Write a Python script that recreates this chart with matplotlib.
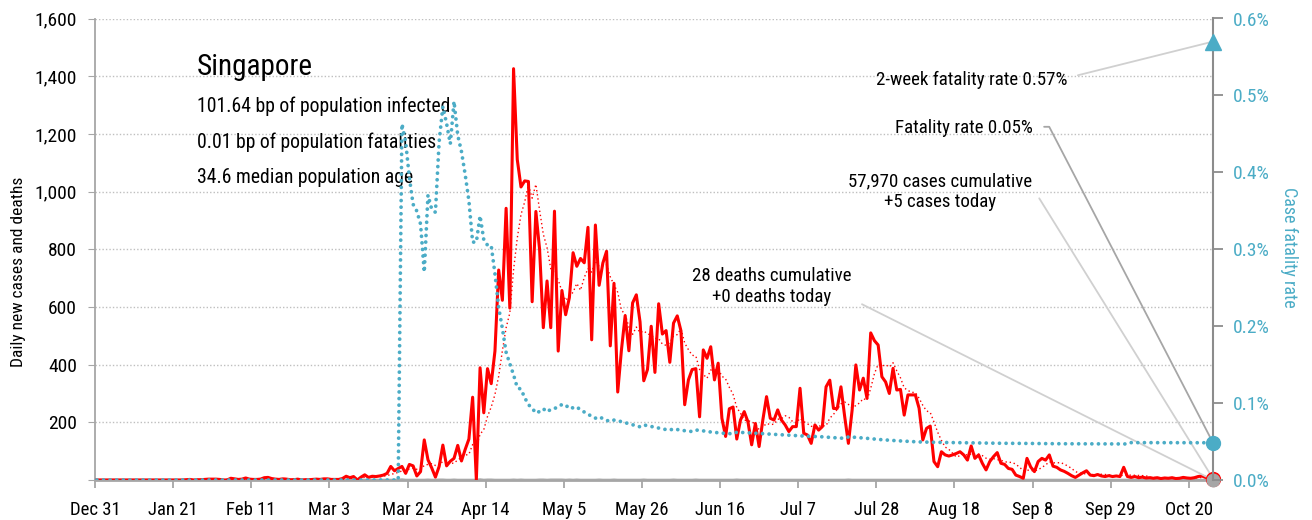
import numpy as np
import pandas as pd
import matplotlib
matplotlib.use('Agg')
import matplotlib.pyplot as plt
from matplotlib import font_manager as fm

# pick a narrow sans if there is one
installed = {f.name for f in fm.fontManager.ttflist}
for fam in ['Liberation Sans Narrow', 'Roboto Condensed', 'DejaVu Sans']:
    if fam in installed:
        break
plt.rcParams['font.family'] = [fam, 'DejaVu Sans']

# daily new cases, Dec 31 2019 .. Oct 26 2020
cases_dec = [0]
cases_jan = [0, 0, 0, 0, 0, 0, 0, 0, 0, 0, 0, 0, 0, 0, 0, 0, 0, 0, 0, 0,
             0, 0, 0, 1, 2, 0, 1, 1, 2, 3, 3]
cases_feb = [3, 2, 0, 0, 6, 4, 2, 3, 7, 3, 2, 2, 3, 8, 9, 5, 3, 2, 4, 3,
             1, 1, 3, 0, 1, 1, 2, 3, 2]
cases_mar = [4, 4, 2, 2, 2, 5, 13, 8, 12, 0, 10, 18, 9, 13, 12, 14, 17, 23, 47, 32,
             40, 47, 23, 54, 49, 14, 29, 139, 70, 42, 10]
cases_apr = [47, 121, 49, 65, 75, 120, 66, 106, 142, 287, 0, 389, 233, 386, 334, 447, 728, 623, 942, 596,
             1426, 1111, 1016, 1037, 1035, 618, 931, 799, 528, 690]
cases_may = [528, 932, 447, 657, 573, 632, 788, 741, 768, 753, 876, 486, 884, 675, 752, 793, 465, 682, 305, 451,
             570, 448, 614, 642, 548, 344, 383, 533, 373, 611, 506]
cases_jun = [518, 408, 544, 569, 517, 261, 347, 383, 386, 219, 451, 422, 462, 347, 405, 214, 151, 247, 253, 142,
             208, 237, 202, 122, 196, 116, 208, 289, 214, 208]
cases_jul = [243, 208, 191, 168, 185, 185, 318, 162, 156, 127, 191, 173, 185, 323, 346, 248, 248, 323, 220, 127,
             242, 399, 312, 353, 283, 510, 483, 468, 358, 340, 300]
cases_aug = [387, 312, 314, 225, 295, 295, 295, 249, 139, 179, 187, 64, 46, 98, 87, 83, 87, 92, 98, 87,
             69, 118, 75, 87, 58, 35, 64, 81, 95, 58, 54]
cases_sep = [40, 37, 17, 12, 6, 75, 45, 29, 64, 75, 69, 87, 48, 44, 35, 30, 23, 15, 9, 17,
             25, 32, 17, 15, 19, 14, 12, 15, 12, 14]
cases_oct = [12, 44, 12, 9, 12, 8, 10, 7, 8, 6, 8, 5, 7, 6, 8, 5, 6, 9, 7, 6,
             8, 12, 14, 9, 7, 5]

# new deaths (date, count)
death_dates = ['2020-03-22', '2020-03-29', '2020-04-01', '2020-04-02', '2020-04-05', '2020-04-12',
               '2020-04-14', '2020-04-15', '2020-04-21', '2020-04-23', '2020-04-28', '2020-04-29',
               '2020-05-01', '2020-05-02', '2020-05-03', '2020-05-04', '2020-05-06', '2020-05-08',
               '2020-05-14', '2020-05-18', '2020-05-26', '2020-06-03', '2020-06-09', '2020-06-20',
               '2020-07-20', '2020-10-04']
death_counts = [2, 1, 1, 1, 1, 2, 1, 1, 1, 1, 1, 1, 1, 1, 1, 1, 1, 1, 1, 1, 1, 1, 1, 1, 1, 1]

two_week_cfr = 0.57
tick_dates = ['2019-12-31', '2020-01-21', '2020-02-11', '2020-03-03', '2020-03-24', '2020-04-14',
              '2020-05-05', '2020-05-26', '2020-06-16', '2020-07-07', '2020-07-28', '2020-08-18',
              '2020-09-08', '2020-09-29', '2020-10-20']

RED = '#FF0000'
TEAL = '#4BACC6'

cases = (cases_dec + cases_jan + cases_feb + cases_mar + cases_apr + cases_may
         + cases_jun + cases_jul + cases_aug + cases_sep + cases_oct)
dates = pd.date_range('2019-12-31', periods=len(cases), freq='D')
cases = pd.Series(cases, index=dates, dtype=float)
deaths = pd.Series(0.0, index=dates)
for d, n in zip(death_dates, death_counts):
    deaths[pd.Timestamp(d)] += n

cfr = (deaths.cumsum() / cases.cumsum() * 100).fillna(0)
ma7 = cases.rolling(7, min_periods=1).mean()
x = dates + pd.Timedelta(hours=12)

W, H = 1312, 520
fig = plt.figure(figsize=(W / 100, H / 100), dpi=100)
L, R, B, T = 95, 1213, 480, 18.5
ax = fig.add_axes([L / W, 1 - B / H, (R - L) / W, (B - T) / H])
ax2 = ax.twinx()

def axfrac(px, py):
    return (px - L) / (R - L), (B - py) / (B - T)

ax.plot(x, deaths, color='#BFBFBF', lw=2, zorder=2)
ax.plot(x, cases, color=RED, lw=2.2, zorder=3)
ax.plot(x, ma7, color=RED, lw=1.0, ls=(0, (1, 2)), zorder=3)
ax2.plot(x, cfr, color=TEAL, lw=2.7, ls=(0, (0.01, 1.75)), dash_capstyle='round', zorder=3)

xlast = x[-1]
ax.plot(xlast, cases.iloc[-1], 'o', ms=10, color=RED, clip_on=False, zorder=6)
ax.plot(xlast, 0, 'o', ms=9, color='#A6A6A6', clip_on=False, zorder=7)
ax2.plot(xlast, two_week_cfr, '^', ms=11, color=TEAL, clip_on=False, zorder=6)
ax2.plot(xlast, cfr.iloc[-1], 'o', ms=10, color=TEAL, clip_on=False, zorder=6)

ax.set_xlim(dates[0], x[-1])
ax.set_ylim(0, 1600)
ax2.set_ylim(0, 0.6)

yt = np.arange(0, 1601, 200)
ax.set_yticks(yt)
ax.set_yticklabels(['' if v == 0 else f'{v:,}' for v in yt])
ct = np.arange(0, 0.61, 0.1)
ax2.set_yticks(ct)
ax2.set_yticklabels([f'{v:.1f}%' for v in ct])
td = pd.to_datetime(tick_dates)
ax.set_xticks(td)
ax.set_xticklabels([f'{d:%b} {d.day}' for d in td])

ax.yaxis.grid(True, color='#BFBFBF', ls=(0, (1, 1.5)), lw=1)
ax.set_axisbelow(True)
for a in (ax, ax2):
    a.spines['top'].set_visible(False)
ax.spines['right'].set_visible(False)
ax2.spines['left'].set_visible(False)
ax2.spines['bottom'].set_visible(False)
ax.spines['left'].set_color('#A6A6A6')
ax.spines['left'].set_linewidth(1.3)
ax.spines['bottom'].set_color('#A6A6A6')
ax.spines['bottom'].set_linewidth(2)
ax2.spines['right'].set_color('#8C8C8C')
ax2.spines['right'].set_linewidth(1.5)

ax.tick_params(axis='y', length=5, color='#A6A6A6', labelsize=14, pad=8)
ax.tick_params(axis='x', length=6, width=1.3, color='#A6A6A6', labelsize=13.5, pad=9)
ax2.tick_params(axis='y', length=7, width=1.3, color='#8C8C8C', labelsize=14, labelcolor=TEAL, pad=7)

ax.set_ylabel('Daily new cases and deaths', fontsize=12.5, va='center')
ax.yaxis.set_label_coords(axfrac(18, 0)[0], axfrac(0, 272)[1])
ax2.set_ylabel('Case fatality rate', fontsize=13, color=TEAL, rotation=270, va='center')
ax2.yaxis.set_label_coords(axfrac(1289, 0)[0], axfrac(0, 247)[1])

ax.text(*axfrac(197, 75), 'Singapore', fontsize=21, va='baseline', transform=ax.transAxes)
info = ['101.64 bp of population infected', '0.01 bp of population fatalities',
        '34.6 median population age']
for line, base in zip(info, [111.7, 148.3, 183.3]):
    ax.text(*axfrac(197, base), line, fontsize=14.2, va='baseline', transform=ax.transAxes)

def note(a, text, xy, px, py, ha, angle, color):
    a.annotate(text, xy=xy, xytext=axfrac(px, py), textcoords='axes fraction',
               fontsize=13.6, ha=ha, va='baseline', multialignment='center',
               arrowprops=dict(arrowstyle='-', color=color, lw=1.3, shrinkA=6, shrinkB=0,
                               relpos=(1, 0.55),
                               connectionstyle=f'angle,angleA=0,angleB={angle},rad=0'))

note(ax2, '2-week fatality rate 0.57%', (xlast, two_week_cfr), 1067, 85, 'right', 14, '#D0D0D0')
note(ax2, 'Fatality rate 0.05%', (xlast, cfr.iloc[-1]), 1033, 132.7, 'right', -62.6, '#A6A6A6')
note(ax, '57,970 cases cumulative\n+5 cases today', (xlast, cases.iloc[-1]), 940, 206.7,
     'center', -58.2, '#D0D0D0')
note(ax, '28 deaths cumulative\n+0 deaths today', (xlast, 0), 772, 301.7, 'center', -26.6, '#D0D0D0')

fig.savefig('out.png', dpi=100)
